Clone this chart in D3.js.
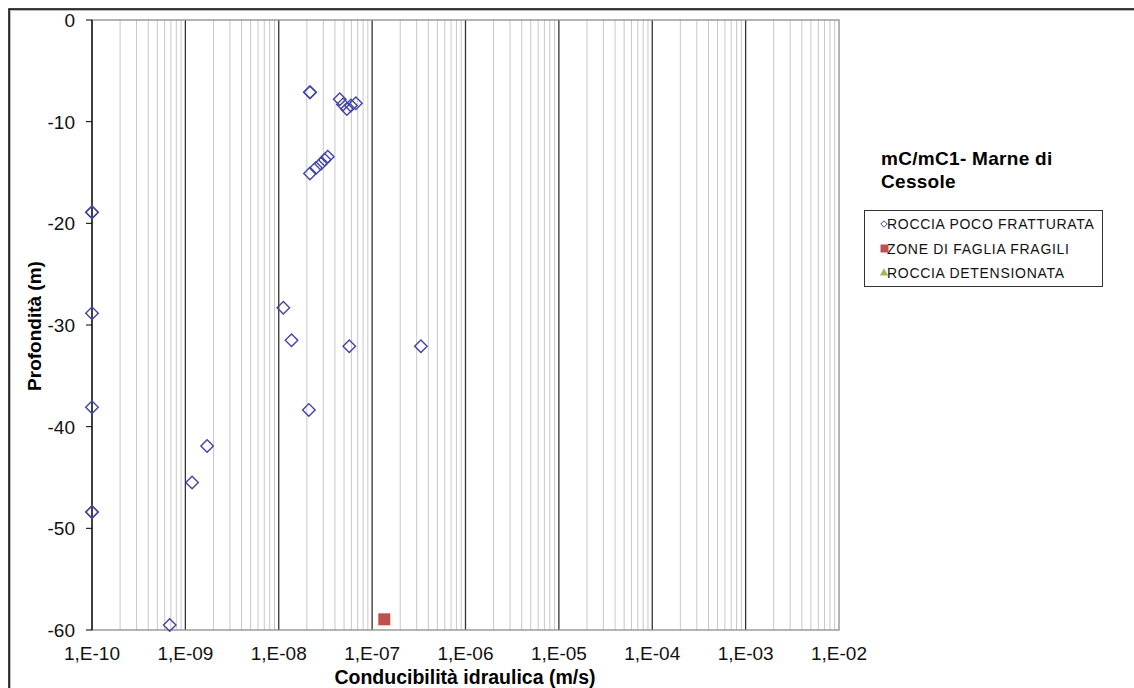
<!DOCTYPE html>
<html>
<head>
<meta charset="utf-8">
<script src="https://cdn.jsdelivr.net/npm/d3@7"></script>
<style>
  body { margin: 0; background: #fff; }
  svg { font-family: "Liberation Sans", Arial, sans-serif; }
</style>
</head>
<body>
<div id="chart"></div>
<script>
// ROCCIA POCO FRATTURATA
const rocciaK = [2.16e-8, 2.16e-8, 4.5e-8, 4.87e-8, 5.37e-8, 5.93e-8, 6.7e-8,
  2.16e-8, 2.5e-8, 2.83e-8, 3.1e-8, 3.35e-8,
  1e-10, 1e-10, 1e-10, 1e-10, 1e-10, 1e-10,
  6.8e-10, 1.18e-9, 1.71e-9, 1.12e-8, 1.37e-8, 5.69e-8, 3.33e-7, 2.1e-8];
const rocciaZ = [-7.1, -7.1, -7.8, -8.3, -8.75, -8.4, -8.2,
  -15.1, -14.55, -14.15, -13.75, -13.45,
  -18.9, -18.9, -28.85, -38.1, -48.4, -48.4,
  -59.5, -45.5, -41.9, -28.3, -31.5, -32.1, -32.1, -38.35];
// ZONE DI FAGLIA FRAGILI
const fagliaK = [1.35e-7];
const fagliaZ = [-58.95];
// ROCCIA DETENSIONATA (nessun punto visibile)
const detensK = [];
const detensZ = [];

const xTicks = [1e-10, 1e-9, 1e-8, 1e-7, 1e-6, 1e-5, 1e-4, 1e-3, 1e-2];
const yTicks = [0, -10, -20, -30, -40, -50, -60];
const legendItems = ["ROCCIA POCO FRATTURATA", "ZONE DI FAGLIA FRAGILI", "ROCCIA DETENSIONATA"];

const width = 1134, height = 688;
const plotLeft = 92, plotRight = 839, plotTop = 20, plotBottom = 630;

const svg = d3.select("#chart").append("svg")
    .attr("width", width)
    .attr("height", height);

// outer frame
svg.append("rect")
    .attr("x", 10).attr("y", 10)
    .attr("width", 1200).attr("height", 800)
    .attr("fill", "none")
    .attr("stroke", "#bbb")
    .attr("stroke-width", 2);
svg.append("rect")
    .attr("x", 9).attr("y", 9)
    .attr("width", 1200).attr("height", 800)
    .attr("fill", "none")
    .attr("stroke", "#000")
    .attr("stroke-width", 1.5);

const x = d3.scaleLog().domain([1e-10, 1e-2]).range([plotLeft, plotRight]);
const y = d3.scaleLinear().domain([-60, 0]).range([plotBottom, plotTop]);

// minor grid lines
const minor = [];
for (let e = -10; e < -2; e++) {
  for (let m = 2; m <= 9; m++) minor.push(m * Math.pow(10, e));
}
svg.append("g").selectAll("line")
    .data(minor)
    .enter().append("line")
    .attr("x1", d => x(d)).attr("x2", d => x(d))
    .attr("y1", plotTop).attr("y2", plotBottom)
    .attr("stroke", "#c8c8c8")
    .attr("stroke-width", 1);

// major grid lines
svg.append("g").selectAll("line")
    .data(xTicks.slice(1, -1))
    .enter().append("line")
    .attr("x1", d => x(d)).attr("x2", d => x(d))
    .attr("y1", plotTop).attr("y2", plotBottom)
    .attr("stroke", "#333")
    .attr("stroke-width", 1.3);

// plot border
svg.append("rect")
    .attr("x", plotLeft).attr("y", plotTop)
    .attr("width", plotRight - plotLeft).attr("height", plotBottom - plotTop)
    .attr("fill", "none")
    .attr("stroke", "#8c8c8c")
    .attr("stroke-width", 1.3);

// left axis
svg.append("line")
    .attr("x1", plotLeft).attr("x2", plotLeft)
    .attr("y1", plotTop).attr("y2", plotBottom)
    .attr("stroke", "#000").attr("stroke-width", 1.3);

svg.append("g").selectAll("line")
    .data(yTicks)
    .enter().append("line")
    .attr("x1", plotLeft - 6).attr("x2", plotLeft)
    .attr("y1", d => y(d)).attr("y2", d => y(d))
    .attr("stroke", "#000").attr("stroke-width", 1);

svg.append("g").selectAll("text")
    .data(yTicks)
    .enter().append("text")
    .attr("x", plotLeft - 17)
    .attr("y", d => y(d) + 7)
    .attr("text-anchor", "end")
    .style("font-size", "19px")
    .style("fill", "#111")
    .text(d => d);

svg.append("g").selectAll("text")
    .data(xTicks)
    .enter().append("text")
    .attr("x", d => x(d))
    .attr("y", 660)
    .attr("text-anchor", "middle")
    .style("font-size", "19px")
    .style("fill", "#111")
    .text(d => "1,E-" + String(-Math.round(Math.log10(d))).padStart(2, "0"));

// axis titles
svg.append("text")
    .attr("x", 465).attr("y", 684)
    .attr("text-anchor", "middle")
    .style("font-size", "19.5px")
    .style("font-weight", "bold")
    .text("Conducibilità idraulica (m/s)");

svg.append("text")
    .attr("transform", "translate(41,326) rotate(-90)")
    .attr("text-anchor", "middle")
    .style("font-size", "19px")
    .style("font-weight", "bold")
    .text("Profondità (m)");

// points
const diamond = d3.symbol().type(d3.symbolDiamond2).size(100);

svg.append("g").selectAll("path")
    .data(rocciaK.map((k, i) => ({ k: k, z: rocciaZ[i] })))
    .enter().append("path")
    .attr("d", diamond)
    .attr("transform", d => `translate(${x(d.k)},${y(d.z)})`)
    .attr("fill", "none")
    .attr("stroke", "#4343a6")
    .attr("stroke-width", 1.4);

svg.append("g").selectAll("rect")
    .data(fagliaK.map((k, i) => ({ k: k, z: fagliaZ[i] })))
    .enter().append("rect")
    .attr("x", d => x(d.k) - 6).attr("y", d => y(d.z) - 6)
    .attr("width", 12).attr("height", 12)
    .attr("fill", "#c0504d");

svg.append("g").selectAll("path")
    .data(detensK.map((k, i) => ({ k: k, z: detensZ[i] })))
    .enter().append("path")
    .attr("d", d3.symbol().type(d3.symbolTriangle).size(60))
    .attr("transform", d => `translate(${x(d.k)},${y(d.z)})`)
    .attr("fill", "#9bbb59");

// title
svg.append("text")
    .attr("x", 881).attr("y", 165)
    .style("font-size", "19px")
    .style("letter-spacing", "0.3px")
    .style("font-weight", "bold")
    .text("mC/mC1- Marne di");
svg.append("text")
    .attr("x", 881).attr("y", 188)
    .style("font-size", "19px")
    .style("letter-spacing", "0.3px")
    .style("font-weight", "bold")
    .text("Cessole");

// legend
svg.append("rect")
    .attr("x", 864.5).attr("y", 210.5)
    .attr("width", 238).attr("height", 76)
    .attr("fill", "#fff")
    .attr("stroke", "#333")
    .attr("stroke-width", 1);

const lg = svg.append("g").selectAll("g")
    .data(legendItems)
    .enter().append("g")
    .attr("transform", (d, i) => `translate(884,${224 + i * 24.5})`);

lg.append("text")
    .attr("x", 3).attr("y", 5)
    .style("font-size", "14px")
    .style("letter-spacing", "0.7px")
    .style("fill", "#111")
    .text(d => d);

lg.filter((d, i) => i === 0).append("path")
    .attr("d", d3.symbol().type(d3.symbolDiamond2).size(26))
    .attr("fill", "none")
    .attr("stroke", "#4343a6")
    .attr("stroke-width", 1);
lg.filter((d, i) => i === 1).append("rect")
    .attr("x", -3.5).attr("y", -4)
    .attr("width", 8).attr("height", 8)
    .attr("fill", "#c0504d");
lg.filter((d, i) => i === 2).append("path")
    .attr("d", d3.symbol().type(d3.symbolTriangle).size(30))
    .attr("fill", "#9bbb59");
</script>
</body>
</html>
